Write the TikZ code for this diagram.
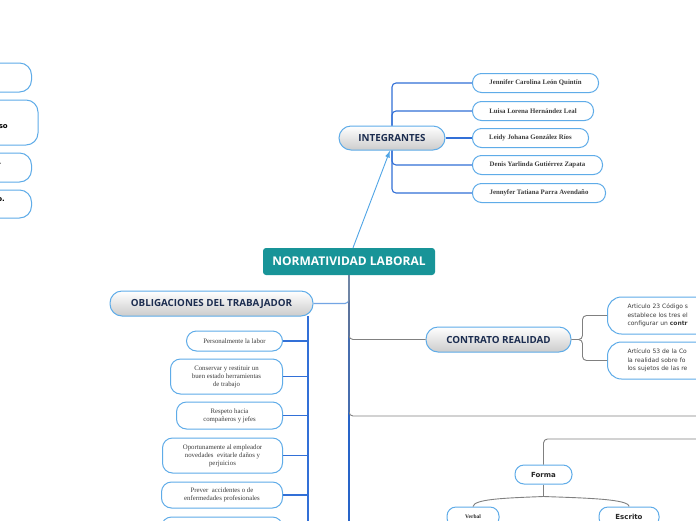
\documentclass[tikz,border=0pt]{standalone}
\usepackage{fontspec}
\setmainfont{Liberation Serif}
\newfontfamily\topicfont{Open Sans}
\newfontfamily\notefont{DejaVu Sans}
\usepackage{tikz}
\usetikzlibrary{arrows.meta,calc,positioning}

\definecolor{rootteal}{RGB}{24,148,152}
\definecolor{topicnavy}{RGB}{28,45,80}
\definecolor{boxblue}{RGB}{95,172,232}
\definecolor{trunkblue}{RGB}{40,100,200}
\definecolor{teamblue}{RGB}{50,112,215}
\definecolor{lightlink}{RGB}{115,165,228}
\definecolor{arrowblue}{RGB}{80,165,230}
\definecolor{linkgrey}{RGB}{128,128,128}
\definecolor{textgrey}{RGB}{60,60,60}

\tikzset{
  roottopic/.style={fill=rootteal, text=white, rounded corners=3pt,
    font=\topicfont\bfseries\fontsize{12}{14}\selectfont,
    minimum width=172, minimum height=27, inner sep=0},
  maintopic/.style={draw=boxblue, line width=1pt, rounded corners=12pt,
    top color=white, bottom color=black!20, text=topicnavy,
    font=\topicfont\bfseries\fontsize{9.8}{11}\selectfont,
    minimum height=24, inner sep=0},
  member/.style={draw=boxblue, line width=1pt, fill=white, rounded corners=9pt,
    anchor=west, minimum height=19, inner sep=0, text=textgrey,
    font=\bfseries\fontsize{6.8}{8}\selectfont},
  duty/.style={draw=boxblue, line width=1pt, fill=white, rounded corners=10pt,
    anchor=east, inner sep=0, align=center, text=textgrey,
    font=\fontsize{6.8}{8}\selectfont},
  article/.style={draw=boxblue, line width=1pt, fill=white, rounded corners=14pt,
    anchor=west, minimum height=37, text width=110, inner xsep=20, align=left,
    text=textgrey, font=\notefont\fontsize{6}{8.3}\selectfont},
  subtopic/.style={draw=boxblue, line width=1pt, fill=white, rounded corners=9pt,
    inner sep=0, text=black!85},
  sidebox/.style={draw=boxblue, line width=1pt, fill=white, rounded corners=12pt,
    anchor=east, minimum width=80, inner sep=0},
  trunk/.style={draw=trunkblue, line width=1.5pt},
  teamlink/.style={draw=teamblue, line width=1.1pt, rounded corners=4pt},
  greylink/.style={draw=linkgrey, line width=0.9pt, rounded corners=4pt},
}

\begin{document}
\begin{tikzpicture}[x=1pt, y=-1pt]
  \clip (0,0) rectangle (696,520);
  \fill[white] (0,0) rectangle (696,520);

  % boxes cut off at the left border
  \node[sidebox, minimum height=29] (side1) at (32,77.5) {};
  \node[sidebox, minimum height=45, minimum width=90] (side2) at (38.5,122.5) {};
  \node[sidebox, minimum height=29] (side3) at (32,167.5) {};
  \node[sidebox, minimum height=28] (side4) at (32,204) {};
  \node[anchor=east, inner sep=0, font=\notefont\bfseries\fontsize{7}{8}\selectfont] (side2txt) at (8,127) {so};
  \node[anchor=east, inner sep=0, font=\notefont\bfseries\fontsize{7}{8}\selectfont] (side3txt) at (1.5,163.5) {.};
  \node[anchor=east, inner sep=0, font=\notefont\bfseries\fontsize{7}{8}\selectfont] (side4txt) at (5,200) {o.};

  % central topic and its trunk
  \node[roottopic] (root) at (349,261.5) {NORMATIVIDAD LABORAL};
  \coordinate (trunkend) at (349,525);
  \coordinate (edgeA) at (700,416);
  \coordinate (edgeB) at (700,439);

  % team
  \node[maintopic, minimum width=106] (integr) at (392,138) {INTEGRANTES};
  \node[member, minimum width=126] (j1) at (472,83) {Jennifer Carolina León Quintín};
  \node[member, minimum width=121] (j2) at (472,111) {Luisa Lorena Hernández Leal};
  \node[member, minimum width=116] (j3) at (472,138) {Leidy Johana González Ríos};
  \node[member, minimum width=130] (j4) at (472,165) {Denis Yarlinda Gutiérrez Zapata};
  \node[member, minimum width=133] (j5) at (472,193) {Jennyfer Tatiana Parra Avendaño};

  % duties of the worker
  \node[maintopic, minimum width=203, minimum height=25] (oblig) at (211.5,303.5) {OBLIGACIONES DEL TRABAJADOR};
  \node[duty, minimum width=96, minimum height=20] (ob1) at (283,341) {Personalmente la labor};
  \node[duty, minimum width=112, minimum height=35] (ob2) at (283,376.5) {Conservar y restituir un\\buen estado herramientas\\de trabajo};
  \node[duty, minimum width=106, minimum height=27] (ob3) at (283,415.5) {Respeto hacia\\compañeros y jefes};
  \node[duty, minimum width=120, minimum height=35] (ob4) at (283,455.5) {Oportunamente al empleador\\novedades\ \ evitarle daños y\\perjuicios};
  \node[duty, minimum width=121, minimum height=26] (ob5) at (283,495) {Prever\ \ accidentes o de\\enfermedades profesionales};
  \node[duty, minimum width=121, minimum height=30] (ob6) at (283,532) {};
  \coordinate (obtop) at (308,316);
  \coordinate (obend) at (308,525);

  % contract
  \node[maintopic, minimum width=145, minimum height=25] (contrato) at (498.5,339.5) {CONTRATO REALIDAD};
  \node[article] (artA) at (607,315.5) {Articulo 23 Código s\\establece los tres el\\configurar un \textbf{contr}};
  \node[article] (artB) at (607,360.5) {Artículo 53 de la Co\\la realidad sobre fo\\los sujetos de las re};

  % form
  \node[subtopic, minimum width=57, minimum height=19, font=\notefont\bfseries\fontsize{7}{8}\selectfont] (forma) at (543.5,474.5) {Forma};
  \node[subtopic, minimum width=52, minimum height=20, font=\bfseries\fontsize{5.5}{6}\selectfont] (verbal) at (473,517) {Verbal};
  \node[subtopic, minimum width=60, minimum height=20, font=\notefont\bfseries\fontsize{7}{8}\selectfont] (escrito) at (629,517) {Escrito};

  % connectors
  \draw[trunk] (root.south) -- (trunkend);
  \draw[draw=lightlink, line width=1.1pt, rounded corners=4pt] (oblig.east) -| (root.south);
  \draw[greylink] (root.south) |- (contrato.west);
  \draw[greylink] (root.south) |- (edgeA);
  \draw[greylink] (edgeB) -| (forma.north);
  \draw[-{Latex[length=7pt,width=5pt]}, arrowblue, line width=0.9pt] ([xshift=4]root.north) -- ([xshift=-2]integr.south);

  \draw[teamlink] (integr.north) |- (j1.west);
  \draw[teamlink] (integr.north) |- (j2.west);
  \draw[teamlink] (integr.east) -- (j3.west);
  \draw[teamlink] (integr.south) |- (j4.west);
  \draw[teamlink] (integr.south) |- (j5.west);

  \draw[teamlink] (obtop) -- (obend);
  \foreach \i in {1,...,6}
    \draw[teamlink] (ob\i.east) -- (ob\i.east -| obtop);

  \draw[greylink] (contrato.east) -- ++(11,0) |- (artA.west);
  \draw[greylink] (contrato.east) -- ++(11,0) |- (artB.west);

  \draw[greylink] (forma.south) -- ++(0,12) coordinate (fsplit);
  \draw[greylink] (fsplit) .. controls (505,498) and (474,499) .. (verbal.north);
  \draw[greylink] (fsplit) .. controls (585,498) and (629,499) .. (escrito.north);
\end{tikzpicture}
\end{document}
